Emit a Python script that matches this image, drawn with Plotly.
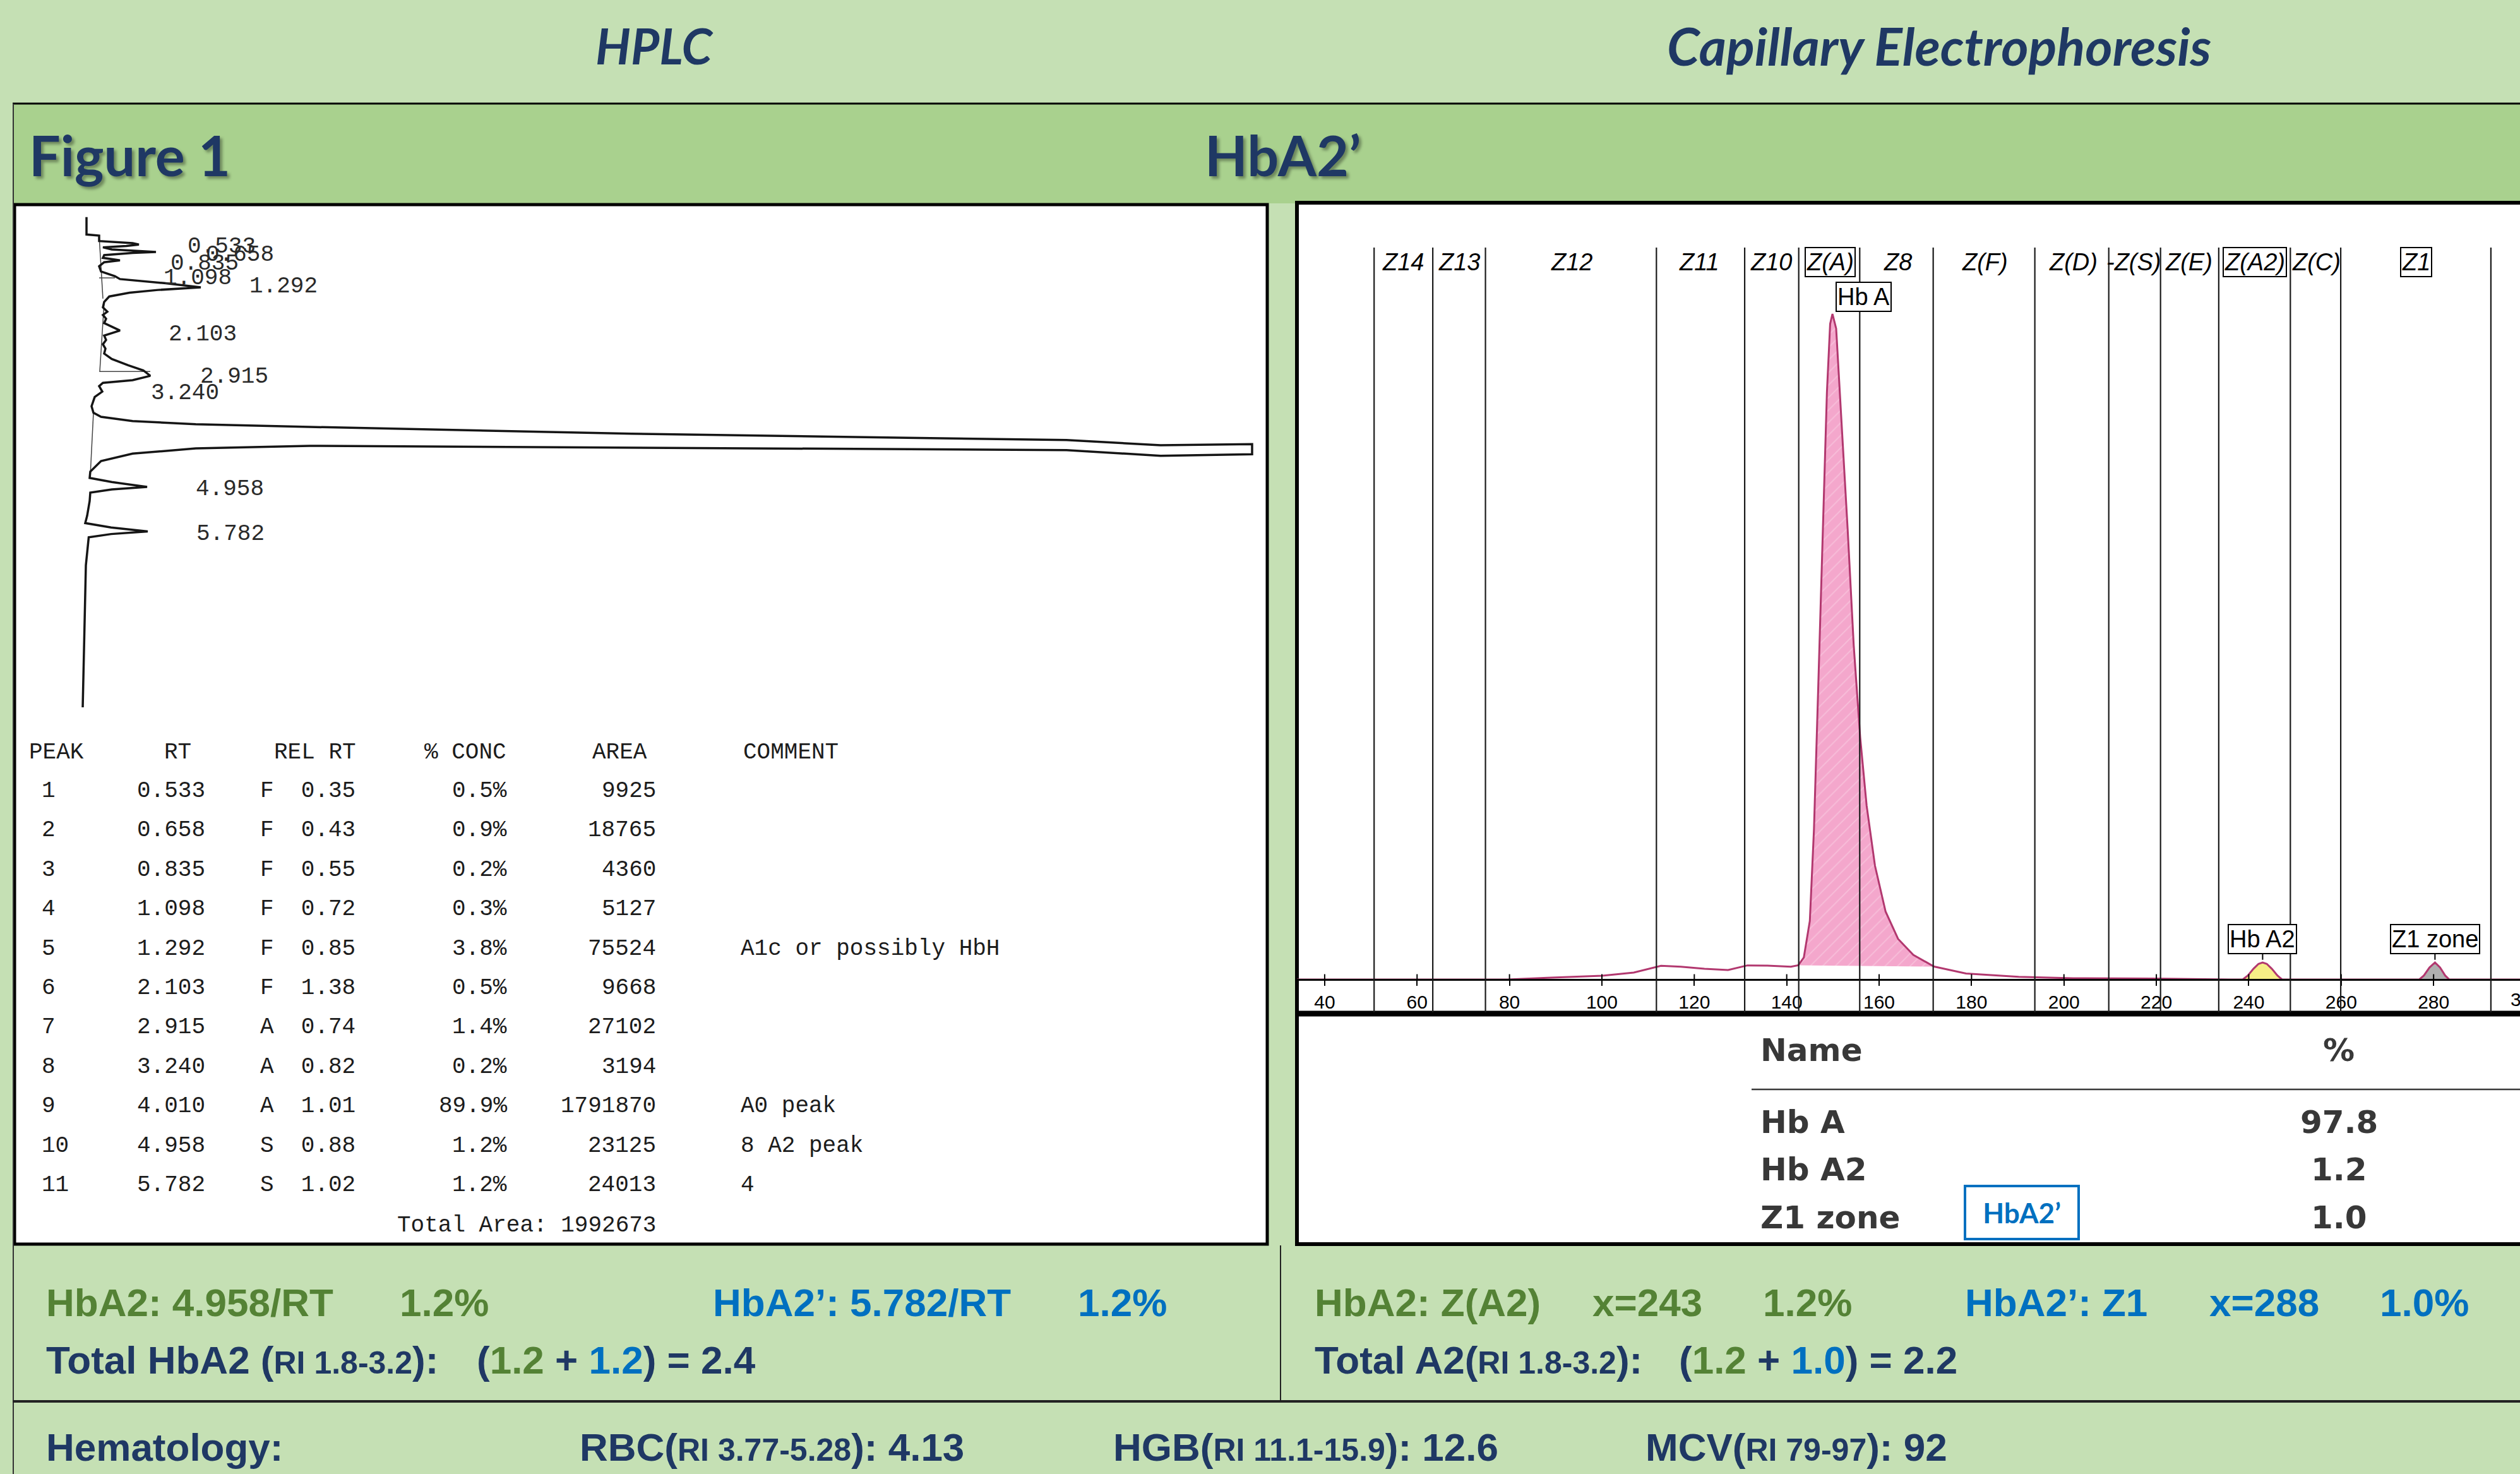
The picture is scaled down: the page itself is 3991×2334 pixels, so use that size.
import plotly.graph_objects as go

W, H = 3991, 2334


def PX(x):
    return x / W


def PY(y):
    return 1 - y / H


LIGHT_GREEN = "#C5E0B4"
BAND_GREEN = "#A9D18E"
NAVY = "#1F3864"
GREEN = "#548235"
BLUE = "#0070C0"
PINK = "#F4A7CC"
TRACE_PINK = "#B2386F"

NARROW = "Liberation Sans Narrow, Arial Narrow, Liberation Sans, Arial, sans-serif"
SANS = "Liberation Sans, Arial, sans-serif"
MONO = "Liberation Mono, Courier New, monospace"
TITLE = "Lato, Open Sans, sans-serif"

# ---------------- HPLC chromatogram (time, min / detector signal, a.u.) ----------------
hplc_time = [0.00, 0.32, 0.34, 0.44, 0.48, 0.505, 0.53, 0.556, 0.595, 0.641, 0.66, 0.70,
             0.75, 0.796, 0.83, 0.905, 1.00, 1.087, 1.14, 1.214, 1.292, 1.34, 1.39, 1.46,
             1.56, 1.66, 1.74, 1.80, 1.87, 1.95, 2.086, 2.18, 2.26, 2.34, 2.42, 2.51,
             2.61, 2.725, 2.82, 2.92, 3.00, 3.05, 3.11, 3.21, 3.31, 3.48, 3.60, 3.674,
             3.752, 3.81, 3.86, 3.887, 3.984, 4.061, 4.10, 4.197, 4.177, 4.363, 4.391,
             4.287, 4.255, 4.217, 4.208, 4.255, 4.352, 4.488, 4.682, 4.798, 4.875, 4.964,
             5.01, 5.068, 5.223, 5.495, 5.63, 5.71, 5.782, 5.831, 5.892, 6.405, 7.625, 9.02]
hplc_signal = [-0.3, -0.3, 1.7, 1.7, 7.0, 8.0, 6.0, 2.3, 3.7, 10.7, 7.0, 2.5,
               2.3, 5.0, 2.5, 1.7, 2.0, 4.2, 5.0, 12.0, 17.8, 11.0, 6.5, 3.3,
               2.5, 2.3, 3.0, 2.3, 2.8, 2.5, 5.0, 2.5, 2.8, 2.3, 2.7, 2.5,
               3.7, 6.3, 8.7, 9.8, 7.0, 2.3, 1.7, 2.2, 1.0, 0.5, 0.8, 2.0,
               7.0, 17.0, 35.0, 46.0, 86.0, 129.8, 154.9, 169.8, 184.3, 184.3, 169.8,
               154.9, 101.9, 46.0, 35.0, 17.0, 7.0, 2.0, 0.3, 0.2, 3.7, 9.3,
               3.7, 0.3, 0.2, -0.2, -0.5, 3.6, 9.4, 3.6, 0.05, -0.4, -0.6, -0.9]
# integration baselines drawn by the integrator
base_time = [0.34, 1.50, None, 1.118, 1.118, None, 1.56, 2.841, 2.841, None, 3.60, 4.75]
base_signal = [1.7, 2.3, None, 1.7, 4.2, None, 2.5, 1.8, 9.8, None, 0.8, 0.3]

# retention-time labels printed next to the peaks
rt_label_text = ["0.533", "0.658", "0.835", "1.098", "1.292", "2.103", "2.915", "3.240", "4.958", "5.782"]
rt_label_time = [0.544, 0.696, 0.862, 1.121, 1.269, 2.152, 2.942, 3.233, 5.01, 5.835]
rt_label_signal = [15.5, 18.4, 12.8, 11.7, 25.3, 12.5, 17.5, 9.7, 16.8, 16.9]

# ---------------- HPLC report table ----------------
peak_no = [1, 2, 3, 4, 5, 6, 7, 8, 9, 10, 11]
peak_rt = ["0.533", "0.658", "0.835", "1.098", "1.292", "2.103", "2.915", "3.240", "4.010", "4.958", "5.782"]
rel_code = ["F", "F", "F", "F", "F", "F", "A", "A", "A", "S", "S"]
rel_rt = [0.35, 0.43, 0.55, 0.72, 0.85, 1.38, 0.74, 0.82, 1.01, 0.88, 1.02]
conc_pct = [0.5, 0.9, 0.2, 0.3, 3.8, 0.5, 1.4, 0.2, 89.9, 1.2, 1.2]
peak_area = [9925, 18765, 4360, 5127, 75524, 9668, 27102, 3194, 1791870, 23125, 24013]
peak_comment = ["", "", "", "", "A1c or possibly HbH", "", "", "", "A0 peak", "8 A2 peak", "4"]
total_area = 1992673

# ---------------- Capillary electrophoresis ----------------
ce_x = [34, 60, 79.6, 88.2, 100.1, 106.9, 112.8, 117.1, 122.2, 127.3, 131.5, 135.8, 140.9,
        142.5, 143.7, 145.0, 145.9, 146.8, 147.8, 148.7, 149.4, 149.9, 150.7, 151.8, 153.2,
        154.5, 155.9, 157.3, 159.1, 161.4, 164.1, 167.4, 171.9, 178.8, 190.2, 202, 219, 236,
        238.7, 239.8, 241.0, 242.1, 243.0, 243.9, 245.0, 246.2, 247.2, 260,
        276.9, 277.9, 279.1, 280.3, 281.4, 282.5, 283.4, 298.7]
ce_y = [0, 0, 0, 0.26, 0.57, 1.04, 2.06, 1.93, 1.61, 1.42, 2.12, 2.09, 1.93,
        2.14, 3.3, 8.8, 22.6, 43.4, 66.8, 88.2, 98.5, 100, 97.8, 84.7, 67.5,
        50.2, 36.4, 26.1, 17.1, 10.2, 6.1, 3.7, 1.94, 0.9, 0.41, 0.2, 0.15, 0,
        0, 0.6, 1.6, 2.35, 2.56, 2.35, 1.6, 0.6, 0, 0,
        0, 0.6, 1.8, 2.56, 1.8, 0.6, 0, 0]
zone_bounds = [50.7, 63.4, 74.8, 111.8, 130.9, 142.6, 155.8, 171.7, 193.7, 209.7, 220.9,
               233.5, 249.0, 259.9, 292.4]
zone_names = ["Z14", "Z13", "Z12", "Z11", "Z10", "Z(A)", "Z8", "Z(F)", "Z(D)", "-Z(S)", "Z(E)",
              "Z(A2)", "Z(C)", "Z1"]
zone_centers = [57.0, 69.1, 93.4, 121.0, 136.6, 149.4, 164.0, 182.9, 202.0, 215.1, 227.0,
                241.3, 254.6, 276.2]
zone_boxed = [False, False, False, False, False, True, False, False, False, False, False,
              True, False, True]
ce_ticks = [40, 60, 80, 100, 120, 140, 160, 180, 200, 220, 240, 260, 280]

ce_names = ["Hb A", "Hb A2", "Z1 zone"]
ce_pct = ["97.8", "1.2", "1.0"]

fig = go.Figure()

# HPLC traces
fig.add_trace(go.Scatter(x=base_signal, y=base_time, mode="lines", connectgaps=False,
                         line=dict(color="#444444", width=1.5), hoverinfo="skip",
                         xaxis="x", yaxis="y"))
fig.add_trace(go.Scatter(x=hplc_signal, y=hplc_time, mode="lines",
                         line=dict(color="#151515", width=3.5), xaxis="x", yaxis="y"))

# CE fills
def subset(lo, hi):
    idx = [i for i, v in enumerate(ce_x) if lo <= v <= hi]
    return [ce_x[i] for i in idx], [ce_y[i] for i in idx]

hx, hy = subset(142.5, 171.9)
fig.add_trace(go.Scatter(x=hx, y=hy, fill="toself", mode="lines", line=dict(width=0),
                         fillcolor=PINK,
                         fillpattern=dict(shape="/", bgcolor=PINK, fgcolor="rgba(255,255,255,0.55)",
                                          size=14, solidity=0.12),
                         xaxis="x2", yaxis="y2", hoverinfo="skip"))
ax_, ay_ = subset(238.7, 247.2)
fig.add_trace(go.Scatter(x=ax_, y=ay_, fill="toself", mode="lines", line=dict(width=0),
                         fillcolor="#F7EE86", xaxis="x2", yaxis="y2", hoverinfo="skip"))
zx_, zy_ = subset(276.9, 283.4)
fig.add_trace(go.Scatter(x=zx_, y=zy_, fill="toself", mode="lines", line=dict(width=0),
                         fillcolor="#AFAFAF", xaxis="x2", yaxis="y2", hoverinfo="skip"))
fig.add_trace(go.Scatter(x=ce_x, y=ce_y, mode="lines", line=dict(color=TRACE_PINK, width=3),
                         xaxis="x2", yaxis="y2"))

shapes = []

def rect(x0, y0, x1, y1, fill, lw=0, lc="black"):
    shapes.append(dict(type="rect", xref="paper", yref="paper", x0=PX(x0), x1=PX(x1),
                       y0=PY(y1), y1=PY(y0), fillcolor=fill,
                       line=dict(width=lw, color=lc), layer="below"))

def hline(x0, x1, y, lw, color="black"):
    shapes.append(dict(type="line", xref="paper", yref="paper", x0=PX(x0), x1=PX(x1),
                       y0=PY(y), y1=PY(y), line=dict(width=lw, color=color), layer="below"))

def vline(x, y0, y1, lw, color="black"):
    shapes.append(dict(type="line", xref="paper", yref="paper", x0=PX(x), x1=PX(x),
                       y0=PY(y0), y1=PY(y1), line=dict(width=lw, color=color), layer="below"))

rect(20, 164, 4000, 322, BAND_GREEN)
hline(20, 3991, 164, 3)
rect(23, 324, 2007, 1970, "white", 5, "black")
rect(2054, 321, 4010, 1970, "white", 6, "black")
hline(2054, 3991, 1605, 9)
vline(21, 164, 2334, 2, "#333333")
vline(2028, 1972, 2219, 2, "#222222")
hline(20, 3991, 2219, 4, "#222222")
hline(2774, 3991, 1725, 2.5, "#3a3a3a")

# zone lines & axis tick marks (CE)
for b in zone_bounds:
    shapes.append(dict(type="line", xref="x2", yref="y2", x0=b, x1=b, y0=-4.934, y1=109.96,
                       line=dict(width=2.2, color="#1a1a1a"), layer="above"))
for t in ce_ticks:
    shapes.append(dict(type="line", xref="x2", yref="y2", x0=t, x1=t, y0=0, y1=0.8,
                       line=dict(width=2, color="black"), layer="above"))

ann = []

def txt(x, y, text, size, color, family, xanchor="left", yanchor="middle", **kw):
    d = dict(x=PX(x), y=PY(y), xref="paper", yref="paper", text=text, showarrow=False,
             xanchor=xanchor, yanchor=yanchor,
             font=dict(size=size, color=color, family=family))
    d.update(kw)
    ann.append(d)

# Titles
txt(1036, 72, "<b><i>HPLC</i></b>", 78, NAVY, TITLE, xanchor="center")
txt(3071, 72, "<b><i>Capillary Electrophoresis</i></b>", 83, NAVY, TITLE, xanchor="center")
shadow = "4px 4px 4px rgba(0,0,0,0.35)"
ann.append(dict(x=PX(44), y=PY(245), xref="paper", yref="paper", text="<b>Figure 1</b>",
                showarrow=False, xanchor="left", yanchor="middle",
                font=dict(size=88, color=NAVY, family=TITLE, shadow=shadow)))
ann.append(dict(x=PX(1906), y=PY(245), xref="paper", yref="paper", text="<b>HbA2’</b>",
                showarrow=False, xanchor="left", yanchor="middle",
                font=dict(size=88, color=NAVY, family=TITLE, shadow=shadow)))

# HPLC RT labels on the chromatogram
for lab, t, s in zip(rt_label_text, rt_label_time, rt_label_signal):
    ann.append(dict(x=s, y=t, xref="x", yref="y", text=lab, showarrow=False,
                    xanchor="left", yanchor="middle",
                    font=dict(size=36, color="#2a2a2a", family=MONO)))

# HPLC table
TC = "#1c1c1c"
TS = 36
hy0 = 1191
txt(44, hy0, "PEAK", TS, TC, MONO)
txt(258, hy0, "RT", TS, TC, MONO)
txt(432, hy0, "REL\u00a0RT", TS, TC, MONO)
txt(670, hy0, "%\u00a0CONC", TS, TC, MONO)
txt(936, hy0, "AREA", TS, TC, MONO)
txt(1175, hy0, "COMMENT", TS, TC, MONO)
for i in range(len(peak_no)):
    yy = 1252.5 + i * 62.4
    txt(64, yy, str(peak_no[i]), TS, TC, MONO)
    txt(215, yy, peak_rt[i], TS, TC, MONO)
    txt(410, yy, f"{rel_code[i]}\u00a0\u00a0{rel_rt[i]:.2f}", TS, TC, MONO)
    txt(805, yy, f"{conc_pct[i]:.1f}%", TS, TC, MONO, xanchor="right")
    txt(1041, yy, str(peak_area[i]), TS, TC, MONO, xanchor="right")
    if peak_comment[i]:
        txt(1171, yy, peak_comment[i].replace(" ", "\u00a0"), TS, TC, MONO)
txt(1041, 1941, f"Total\u00a0Area:\u00a0{total_area}", TS, TC, MONO, xanchor="right")

# CE zone labels
for name, c, boxed in zip(zone_names, zone_centers, zone_boxed):
    d = dict(x=c, y=107.8, xref="x2", yref="y2", text=f"<i>{name}</i>", showarrow=False,
             xanchor="center", yanchor="middle",
             font=dict(size=38, color="black", family=NARROW))
    if boxed:
        d.update(bordercolor="black", borderwidth=2, borderpad=1, bgcolor="white")
    ann.append(d)

# CE peak labels
ann.append(dict(x=156.7, y=102.6, xref="x2", yref="y2", text="Hb A", showarrow=False,
                xanchor="center", yanchor="middle", bordercolor="black", borderwidth=2,
                borderpad=1, bgcolor="white", font=dict(size=38, color="black", family=NARROW)))
for px_, lab in [(243.0, "Hb A2"), (280.3, "Z1 zone")]:
    ann.append(dict(x=px_, y=2.86, xref="x2", yref="y2", text=lab, showarrow=True,
                    arrowhead=0, arrowwidth=2, arrowcolor="black", ax=0, ay=-34,
                    standoff=1, bordercolor="black", borderwidth=2, borderpad=1,
                    bgcolor="white", font=dict(size=38, color="black", family=NARROW)))
# partially visible 300 tick label at the right edge
dom0, dom1, r0, r1 = PX(2054), 1.0, 34, 298.7
ann.append(dict(x=dom0 + (300 - r0) / (r1 - r0) * (dom1 - dom0), y=PY(1582), xref="paper",
                yref="paper", text="300", showarrow=False, xanchor="center", yanchor="middle",
                font=dict(size=30, color="black", family=NARROW)))

# CE results table
CEC = "#383838"
CEF = "DejaVu Sans, Verdana, sans-serif"
txt(2786, 1663, "<b>Name</b>", 50, CEC, CEF)
txt(3704, 1663, "<b>%</b>", 50, CEC, CEF, xanchor="center")
for i, (n, p) in enumerate(zip(ce_names, ce_pct)):
    yy = [1777, 1852, 1928][i]
    txt(2786, yy, f"<b>{n}</b>", 50, CEC, CEF)
    txt(3704, yy, f"<b>{p}</b>", 50, CEC, CEF, xanchor="center")
ann.append(dict(x=PX(3202), y=PY(1920), xref="paper", yref="paper", text="<b>HbA2’</b>",
                showarrow=False, xanchor="center", yanchor="middle", width=170, height=74,
                borderpad=3, borderwidth=4, bordercolor=BLUE, bgcolor="white",
                font=dict(size=44, color=BLUE, family=TITLE)))

# Bottom summary
FS = 62
SM = "font-size:50px"
for x, t, c in [(71, "HbA2: 4.958/RT", GREEN), (631, "1.2%", GREEN),
                (1127, "HbA2’: 5.782/RT", BLUE), (1705, "1.2%", BLUE),
                (2080, "HbA2: Z(A2)", GREEN), (2520, "x=243", GREEN), (2790, "1.2%", GREEN),
                (3110, "HbA2’: Z1", BLUE), (3497, "x=288", BLUE), (3767, "1.0%", BLUE)]:
    txt(x, 2062, f"<b>{t}</b>", FS, c, SANS)

txt(71, 2153, f"<b>Total HbA2 (<span style='{SM}'>RI 1.8-3.2</span>):</b>", FS, NAVY, SANS)
txt(753, 2153, f"<b>(<span style='color:{GREEN}'>1.2</span> + <span style='color:{BLUE}'>1.2</span>) = 2.4</b>",
    FS, NAVY, SANS)
txt(2080, 2153, f"<b>Total A2(<span style='{SM}'>RI 1.8-3.2</span>):</b>", FS, NAVY, SANS)
txt(2657, 2153, f"<b>(<span style='color:{GREEN}'>1.2</span> + <span style='color:{BLUE}'>1.0</span>) = 2.2</b>",
    FS, NAVY, SANS)

HY = 2291
txt(71, HY, "<b>Hematology:</b>", FS, NAVY, SANS)
txt(916, HY, f"<b>RBC(<span style='{SM}'>RI 3.77-5.28</span>): 4.13</b>", FS, NAVY, SANS)
txt(1761, HY, f"<b>HGB(<span style='{SM}'>RI 11.1-15.9</span>): 12.6</b>", FS, NAVY, SANS)
txt(2604, HY, f"<b>MCV(<span style='{SM}'>RI 79-97</span>): 92</b>", FS, NAVY, SANS)

fig.update_layout(
    width=W, height=H, margin=dict(l=0, r=0, t=0, b=0),
    paper_bgcolor=LIGHT_GREEN, plot_bgcolor="rgba(0,0,0,0)", showlegend=False,
    xaxis=dict(domain=[PX(25), PX(2005)], range=[-11.5, 186.5], visible=False),
    yaxis=dict(domain=[PY(1130), PY(323)], range=[9.1355, -0.2417], visible=False),
    xaxis2=dict(domain=[PX(2054), 1.0], range=[34, 298.7], anchor="free", position=PY(1551),
                showline=True, linecolor="black", linewidth=3, ticks="outside", ticklen=8,
                tickwidth=2, tickcolor="black", tickvals=ce_ticks,
                ticktext=[str(t) for t in ce_ticks], showgrid=False, zeroline=False,
                tickfont=dict(size=30, color="black", family=NARROW)),
    yaxis2=dict(domain=[PY(1603), PY(323)], range=[-4.934, 116.51], visible=False,
                anchor="x2"),
    shapes=shapes, annotations=ann,
)

fig.write_html("out.html", config={"displayModeBar": False},
               post_script="document.body.style.margin='0';document.body.style.overflow='hidden';")
